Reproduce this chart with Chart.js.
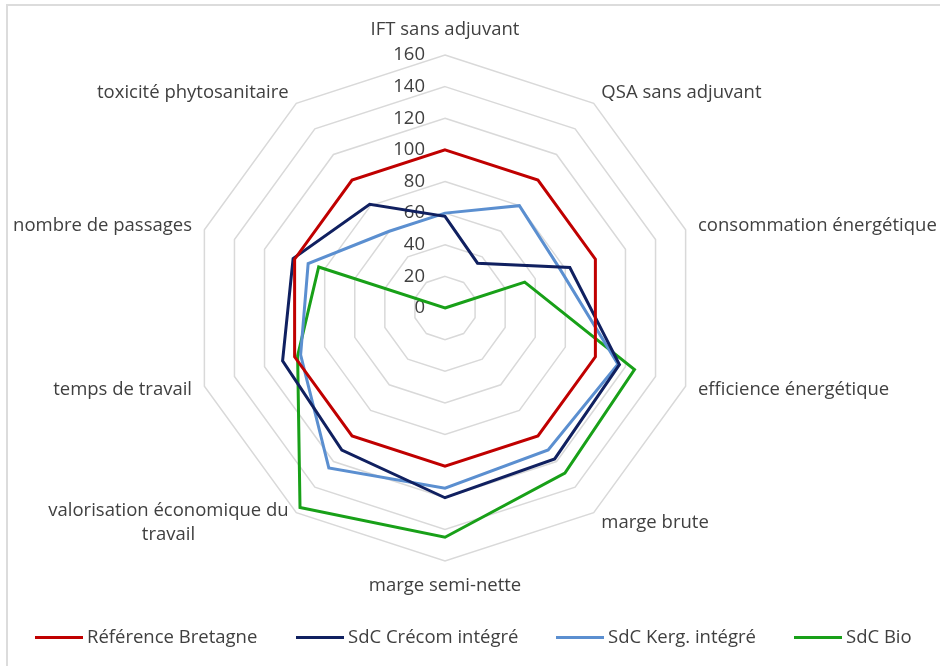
<!DOCTYPE html>
<html>
<head>
<meta charset="utf-8">
<script src="https://cdn.jsdelivr.net/npm/chart.js@4.4.1/dist/chart.umd.min.js"></script>
<style>
  html, body { margin: 0; padding: 0; background: #fff; overflow: hidden; }
  #wrap { position: relative; width: 940px; height: 666px; overflow: hidden; }
  #frame { position: absolute; left: 6px; top: 4px; width: 960px; height: 700px;
           border-top: 2px solid #dcdcdc; border-left: 2px solid #dcdcdc; }
  #chart { position: absolute; left: 0; top: 0; }
  #legend { position: absolute; left: 0; top: 624px; width: 940px; height: 24px;
            font: 18.5px 'Open Sans', sans-serif; color: #404040; }
  .item { position: absolute; top: 0; height: 24px; line-height: 24px; white-space: nowrap; }
  .item i { display: inline-block; width: 48px; height: 3px; vertical-align: middle;
            margin-right: 4px; position: relative; top: -1px; }
</style>
</head>
<body>
<div id="wrap">
  <div id="frame"></div>
  <canvas id="chart" width="940" height="666"></canvas>
  <div id="legend"></div>
</div>
<script>
const categories = [
  "IFT sans adjuvant",
  "QSA sans adjuvant",
  "consommation énergétique",
  "efficience énergétique",
  "marge brute",
  "marge semi-nette",
  ["valorisation économique du", "travail"],
  "temps de travail",
  "nombre de passages",
  "toxicité phytosanitaire"
];
const seriesNames = ["Référence Bretagne", "SdC Crécom intégré", "SdC Kerg. intégré", "SdC Bio"];
const referenceBretagne = [100, 100, 100, 100, 100, 100, 100, 100, 100, 100];
const sdcCrecom = [58, 35, 83, 116, 118, 120, 111, 108, 101, 81];
const sdcKerg = [60, 80, 77, 115, 111, 114, 125, 96, 91, 60];
const sdcBio = [0, 0, 53, 126, 129, 145, 156, 98, 84, 0];
const tickValues = [0, 20, 40, 60, 80, 100, 120, 140, 160];
const colors = ["#C00000", "#102060", "#5B8FD0", "#18A018"];

const textColor = "#404040";
const fontFamily = "'Open Sans', sans-serif";
const fontSize = 18.5;

function series(label, data, color) {
  return {
    label: label,
    data: data,
    borderColor: color,
    backgroundColor: color,
    borderWidth: 3,
    pointRadius: 0,
    fill: false
  };
}

// tick numbers sit left of the vertical axis, under the lines
const tickLabels = {
  id: "tickLabels",
  beforeDatasetsDraw(chart) {
    const scale = chart.scales.r;
    const ctx = chart.ctx;
    ctx.save();
    ctx.font = fontSize + "px " + fontFamily;
    ctx.fillStyle = textColor;
    ctx.textAlign = "right";
    ctx.textBaseline = "middle";
    tickValues.forEach((v) => {
      const y = scale.yCenter - scale.getDistanceFromCenterForValue(v);
      ctx.fillText(String(v), scale.xCenter - 20, y);
    });
    ctx.restore();
  }
};

// axis names, vertically centred on their spoke like Excel does
const axisLabels = {
  id: "axisLabels",
  afterDraw(chart) {
    const scale = chart.scales.r;
    const ctx = chart.ctx;
    const lineH = 24;
    ctx.save();
    ctx.font = fontSize + "px " + fontFamily;
    ctx.fillStyle = textColor;
    ctx.textAlign = "center";
    ctx.textBaseline = "middle";
    chart.data.labels.forEach((label, i) => {
      const lines = Array.isArray(label) ? label : [label];
      const pos = scale.getPointPosition(i, scale.drawingArea + 13);
      const dx = pos.x - scale.xCenter;
      const dy = pos.y - scale.yCenter;
      const blockW = Math.max(...lines.map((l) => ctx.measureText(l).width));
      const blockH = lines.length * lineH;
      let cx = pos.x;
      if (dx > 1) cx = pos.x + blockW / 2;
      else if (dx < -1) cx = pos.x - blockW / 2;
      let top = pos.y - blockH / 2;
      if (Math.abs(dx) <= 1) top = dy < 0 ? pos.y - blockH : pos.y;
      lines.forEach((l, k) => ctx.fillText(l, cx, top + lineH * (k + 0.5)));
    });
    ctx.restore();
  }
};

new Chart(document.getElementById("chart"), {
  type: "radar",
  data: {
    labels: categories,
    datasets: [
      series(seriesNames[0], referenceBretagne, colors[0]),
      series(seriesNames[1], sdcCrecom, colors[1]),
      series(seriesNames[2], sdcKerg, colors[2]),
      series(seriesNames[3], sdcBio, colors[3])
    ]
  },
  options: {
    responsive: false,
    animation: false,
    layout: { padding: { top: 55, left: 10, right: 60, bottom: 104 } },
    elements: { line: { tension: 0 } },
    scales: {
      r: {
        min: 0,
        max: 160,
        ticks: { stepSize: 20, display: false },
        angleLines: { display: false },
        grid: { color: "#d9d9d9", lineWidth: 1.5 },
        pointLabels: { display: false }
      }
    },
    plugins: {
      legend: { display: false },
      tooltip: { enabled: false }
    }
  },
  plugins: [tickLabels, axisLabels]
});

// legend below the plot, spaced like the original
const legendLeft = [35, 296, 556, 794];
const legend = document.getElementById("legend");
seriesNames.forEach((name, i) => {
  const item = document.createElement("span");
  item.className = "item";
  item.style.left = legendLeft[i] + "px";
  item.innerHTML = '<i style="background:' + colors[i] + '"></i>' + name;
  legend.appendChild(item);
});
</script>
</body>
</html>
